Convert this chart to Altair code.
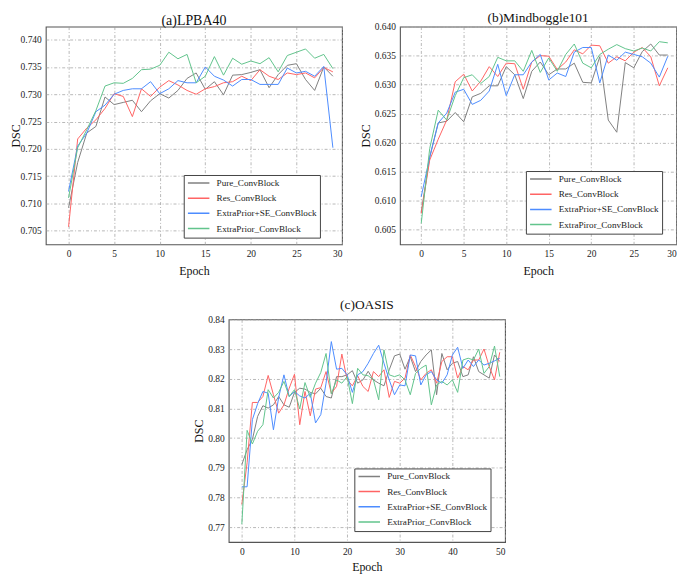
import altair as alt
import pandas as pd

SERIF = "Liberation Serif"

# ---------------- data ----------------
epochs_30 = list(range(30))
epochs_50 = list(range(50))

names_a = ["Pure_ConvBlock", "Res_ConvBlock", "ExtraPrior+SE_ConvBlock", "ExtraPrior_ConvBlock"]
names_b = ["Pure_ConvBlock", "Res_ConvBlock", "ExtraPrior+SE_ConvBlock", "ExtraPiror_ConvBlock"]
names_c = ["Pure_ConvBlock", "Res_ConvBlock", "ExtraPrior+SE_ConvBlock", "ExtraPrior_ConvBlock"]
colors = ["#808080", "#ff6464", "#4d8cff", "#62c48c"]

# (a) LPBA40
lpba_pure = [0.7092, 0.7175, 0.7229, 0.7241, 0.7295, 0.7281, 0.7285, 0.7289, 0.7268, 0.7288,
             0.7301, 0.7293, 0.7307, 0.7329, 0.7339, 0.7309, 0.7323, 0.7299, 0.7335, 0.7336,
             0.7340, 0.7345, 0.7312, 0.7336, 0.7353, 0.7356, 0.7327, 0.7307, 0.7350, 0.7333]
lpba_res = [0.7057, 0.7218, 0.7238, 0.7253, 0.7274, 0.7301, 0.7296, 0.7259, 0.7310, 0.7296,
            0.7313, 0.7325, 0.7317, 0.7307, 0.7300, 0.7310, 0.7314, 0.7321, 0.7323, 0.7333,
            0.7325, 0.7345, 0.7333, 0.7327, 0.7339, 0.7336, 0.7339, 0.7330, 0.7349, 0.7341]
lpba_se = [0.7122, 0.7205, 0.7229, 0.7268, 0.7280, 0.7300, 0.7307, 0.7310, 0.7310, 0.7323,
           0.7301, 0.7310, 0.7325, 0.7321, 0.7321, 0.7350, 0.7333, 0.7326, 0.7315, 0.7327,
           0.7327, 0.7318, 0.7318, 0.7318, 0.7348, 0.7339, 0.7342, 0.7333, 0.7351, 0.7202]
lpba_prior = [0.7110, 0.7202, 0.7235, 0.7270, 0.7315, 0.7321, 0.7320, 0.7329, 0.7345, 0.7346,
              0.7353, 0.7377, 0.7365, 0.7373, 0.7321, 0.7333, 0.7369, 0.7335, 0.7366, 0.7355,
              0.7361, 0.7356, 0.7367, 0.7341, 0.7371, 0.7377, 0.7383, 0.7366, 0.7373, 0.7347]

# (b) Mindboggle101
mind_pure = [0.6080, 0.6175, 0.6234, 0.6237, 0.6252, 0.6236, 0.6279, 0.6285, 0.6298, 0.6298,
             0.6331, 0.6317, 0.6276, 0.6323, 0.6339, 0.6317, 0.6327, 0.6327, 0.6337, 0.6304,
             0.6303, 0.6348, 0.6239, 0.6218, 0.6338, 0.6329, 0.6357, 0.6370, 0.6351, 0.6351]
mind_res = [0.6078, 0.6170, 0.6206, 0.6239, 0.6305, 0.6318, 0.6289, 0.6306, 0.6331, 0.6314,
            0.6337, 0.6336, 0.6292, 0.6339, 0.6350, 0.6349, 0.6326, 0.6339, 0.6360, 0.6353,
            0.6368, 0.6367, 0.6337, 0.6348, 0.6341, 0.6356, 0.6364, 0.6348, 0.6298, 0.6329]
mind_se = [0.6107, 0.6175, 0.6234, 0.6251, 0.6287, 0.6292, 0.6266, 0.6273, 0.6289, 0.6335,
           0.6281, 0.6317, 0.6317, 0.6339, 0.6352, 0.6308, 0.6320, 0.6314, 0.6356, 0.6364,
           0.6364, 0.6303, 0.6351, 0.6342, 0.6356, 0.6352, 0.6348, 0.6337, 0.6313, 0.6349]
mind_prior = [0.6061, 0.6190, 0.6256, 0.6239, 0.6281, 0.6312, 0.6317, 0.6302, 0.6314, 0.6347,
              0.6341, 0.6341, 0.6323, 0.6359, 0.6321, 0.6346, 0.6323, 0.6352, 0.6370, 0.6337,
              0.6329, 0.6352, 0.6361, 0.6369, 0.6362, 0.6358, 0.6363, 0.6358, 0.6374, 0.6372]

# (c) OASIS
oasis_pure = [0.7911, 0.7961, 0.7995, 0.8073, 0.8109, 0.8101, 0.8112, 0.8140, 0.8112, 0.8104,
              0.8154, 0.8168, 0.8165, 0.8154, 0.8149, 0.8168, 0.8140, 0.8135, 0.8207, 0.8207,
              0.8213, 0.8227, 0.8185, 0.8196, 0.8225, 0.8196, 0.8185, 0.8176, 0.8230, 0.8277,
              0.8283, 0.8232, 0.8274, 0.8224, 0.8258, 0.8280, 0.8297, 0.8146, 0.8285, 0.8230,
              0.8252, 0.8258, 0.8207, 0.8213, 0.8274, 0.8224, 0.8213, 0.8202, 0.8280, 0.8258]
oasis_res = [0.7777, 0.7917, 0.8120, 0.8120, 0.8140, 0.8211, 0.8146, 0.8084, 0.8112, 0.8168,
             0.8215, 0.8045, 0.8157, 0.8075, 0.8165, 0.8170, 0.8224, 0.8151, 0.8174, 0.8283,
             0.8197, 0.8176, 0.8210, 0.8174, 0.8157, 0.8224, 0.8207, 0.8230, 0.8137, 0.8191,
             0.8185, 0.8202, 0.8280, 0.8241, 0.8196, 0.8218, 0.8230, 0.8185, 0.8258, 0.8274,
             0.8274, 0.8202, 0.8241, 0.8230, 0.8263, 0.8263, 0.8300, 0.8241, 0.8196, 0.8289]
oasis_se = [0.7836, 0.7836, 0.8062, 0.8116, 0.8157, 0.8151, 0.8028, 0.8137, 0.8213, 0.8140,
            0.8157, 0.8142, 0.8135, 0.8151, 0.8051, 0.8079, 0.8185, 0.8325, 0.8232, 0.8235,
            0.8213, 0.8154, 0.8213, 0.8224, 0.8252, 0.8285, 0.8313, 0.8252, 0.8196, 0.8146,
            0.8179, 0.8176, 0.8280, 0.8277, 0.8179, 0.8213, 0.8224, 0.8196, 0.8185, 0.8213,
            0.8280, 0.8306, 0.8235, 0.8263, 0.8241, 0.8263, 0.8246, 0.8252, 0.8260, 0.8269]
oasis_prior = [0.7710, 0.8026, 0.7980, 0.8023, 0.8045, 0.8163, 0.8135, 0.8154, 0.8191, 0.8140,
               0.8163, 0.8098, 0.8187, 0.8137, 0.8185, 0.8221, 0.8285, 0.8149, 0.8196, 0.8185,
               0.8207, 0.8116, 0.8235, 0.8213, 0.8210, 0.8196, 0.8129, 0.8297, 0.8213, 0.8207,
               0.8213, 0.8196, 0.8146, 0.8218, 0.8235, 0.8246, 0.8112, 0.8179, 0.8191, 0.8179,
               0.8196, 0.8154, 0.8263, 0.8269, 0.8263, 0.8300, 0.8218, 0.8241, 0.8310, 0.8207]

# tick values
xticks_30 = [0, 5, 10, 15, 20, 25, 30]
xticks_50 = [0, 10, 20, 30, 40, 50]
yticks_a = [0.705, 0.710, 0.715, 0.720, 0.725, 0.730, 0.735, 0.740]
yticks_b = [0.605, 0.610, 0.615, 0.620, 0.625, 0.630, 0.635, 0.640]
yticks_c = [0.77, 0.78, 0.79, 0.80, 0.81, 0.82, 0.83, 0.84]


def long_df(epochs, series, names):
    rows = []
    for name, vals in zip(names, series):
        for e, v in zip(epochs, vals):
            rows.append({"epoch": e, "dsc": v, "model": name})
    return pd.DataFrame(rows)


def panel(df, names, title, tsize, toff, xdom, xvals, ydom, yvals, yfmt,
          lx, ly, w, h, ytp, xtp):
    return alt.Chart(df).mark_line(strokeWidth=1).encode(
        x=alt.X("epoch:Q", scale=alt.Scale(domain=xdom, nice=False, zero=False),
                axis=alt.Axis(values=xvals, title="Epoch", format="d", titlePadding=xtp)),
        y=alt.Y("dsc:Q", scale=alt.Scale(domain=ydom, nice=False, zero=False),
                axis=alt.Axis(values=yvals, title="DSC", format=yfmt, titlePadding=ytp)),
        color=alt.Color("model:N", sort=names,
                        scale=alt.Scale(domain=names, range=colors),
                        legend=alt.Legend(title=None, orient="none", legendX=lx, legendY=ly,
                                          direction="vertical",
                                          fillColor="white", strokeColor="#444444",
                                          padding=3, symbolType="stroke", symbolSize=467,
                                          symbolStrokeWidth=1.5, clipHeight=10,
                                          rowPadding=4.3, labelOffset=6,
                                          labelFont=SERIF, labelFontSize=9.2,
                                          labelColor="#222222")),
    ).properties(
        width=w, height=h,
        title=alt.TitleParams(title, fontSize=tsize, offset=toff, anchor="middle",
                              font=SERIF, fontWeight="normal", color="#111111"),
    )


df_a = long_df(epochs_30, [lpba_pure, lpba_res, lpba_se, lpba_prior], names_a)
df_b = long_df(epochs_30, [mind_pure, mind_res, mind_se, mind_prior], names_b)
df_c = long_df(epochs_50, [oasis_pure, oasis_res, oasis_se, oasis_prior], names_c)

pa = panel(df_a, names_a, "(a)LPBA40", 14, -1.5, [-2.5, 30], xticks_30, [0.7025, 0.7424],
           yticks_a, ".3f", 138.8, 149.3, 298, 219, -2, 7)
pb = panel(df_b, names_b, "(b)Mindboggle101", 13.5, -3, [-2.5, 30], xticks_30, [0.6025, 0.6400],
           yticks_b, ".3f", 126.7, 145.3, 278, 219, 2, 7)
pc = panel(df_c, names_c, "(c)OASIS", 13.5, 2.75, [-2.5, 50], xticks_50, [0.765, 0.84],
           yticks_c, ".2f", 126.4, 150, 278, 224, 2, 6)

spacer = alt.Chart(pd.DataFrame({"v": [0]})).mark_point(opacity=0).properties(
    width=147, height=10, view=alt.ViewBackground(strokeOpacity=0))

row1 = alt.hconcat(pa, pb, spacing=15.3).resolve_scale(color="independent")
row2 = alt.hconcat(spacer, pc, spacing=0).resolve_scale(color="independent")

chart = alt.vconcat(row1, row2, spacing=20.5).resolve_scale(color="independent").properties(
    padding={"left": 0, "top": 0, "right": 0, "bottom": 0},
    background="white",
).configure_axis(
    labelFont=SERIF, labelFontSize=9.5, labelColor="#222222", labelPadding=4.5,
    titleFont=SERIF, titleFontSize=12, titleFontWeight="normal", titleColor="#111111",
    ticks=False, tickSize=0, domain=False,
    grid=True, gridColor="#9a9a9a", gridDash=[3, 2, 1, 2], gridWidth=0.7,
).configure_view(stroke="#555555", strokeWidth=1.1)

chart.save("out.html", embed_options={"renderer": "svg", "actions": False})
